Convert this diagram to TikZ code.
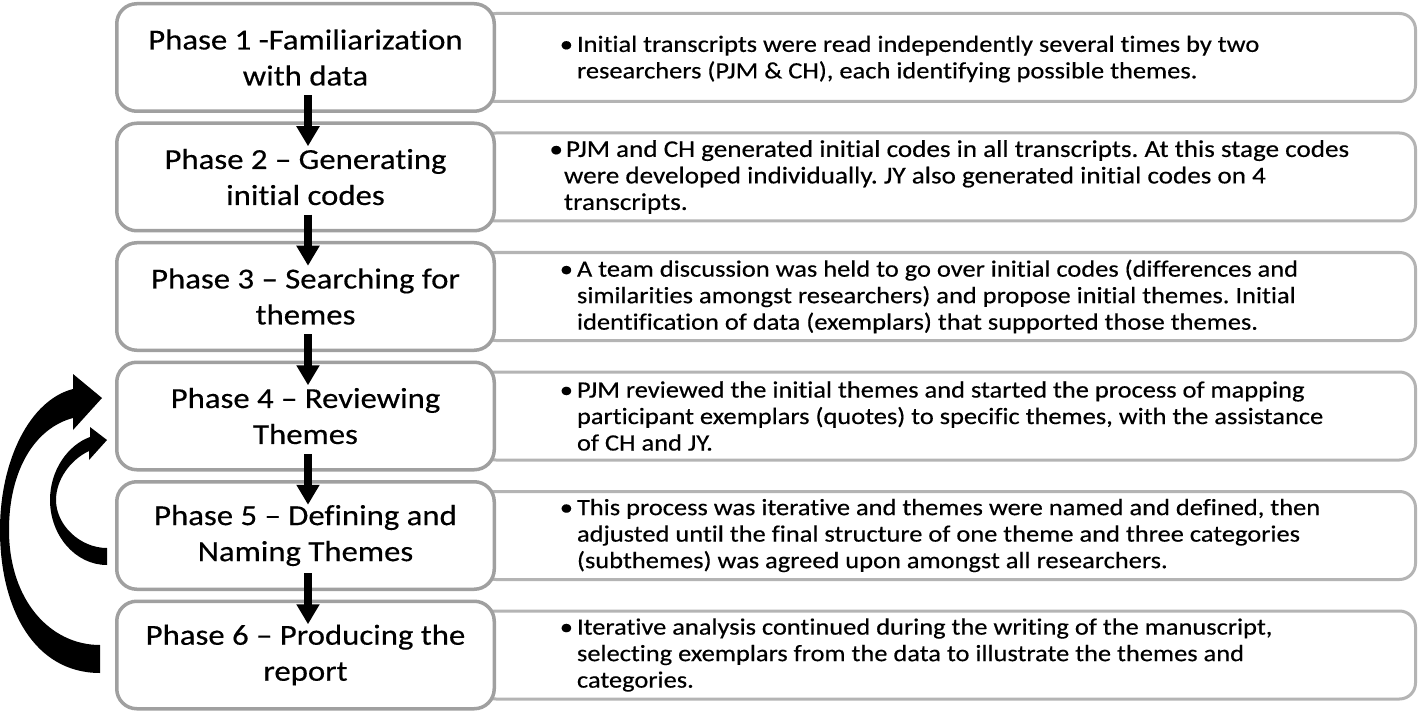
\documentclass[tikz,border=0pt]{standalone}
\usepackage{fontspec}
\setmainfont{Carlito}[FakeStretch=1.13, FakeBold=0.4, Ligatures=NoCommon]
\usetikzlibrary{arrows.meta}
\definecolor{leftgray}{HTML}{A0A0A0}
\definecolor{rightgray}{HTML}{B4B4B4}
\frenchspacing
\tikzset{
  phase/.style={draw=leftgray, line width=3.5pt, fill=white, rounded corners=20pt,
    minimum width=377.5pt, minimum height=107.5pt, inner sep=0pt, outer sep=0pt,
    align=center, font=\fontsize{29}{36}\selectfont},
  detail/.style={draw=rightgray, line width=3pt, fill=white, rounded corners=16pt,
    minimum width=935.5pt, minimum height=88pt, inner sep=0pt, outer sep=0pt},
  dtext/.style={anchor=west, align=left, inner sep=0pt, outer sep=0pt,
    font=\fontsize{23.4}{26.5}\selectfont},
  dtextwide/.style={dtext, font=\fontsize{24}{26.5}\selectfont},
  varrow/.style={line width=8pt, -{Triangle[width=22pt,length=20pt]}},
  looparrow/.style={fill=black}
}
\begin{document}
\begin{tikzpicture}[x=1pt,y=-1pt]
\useasboundingbox[fill=white] (0,0) rectangle (1419,714);

% detail boxes
\node[detail] (d1) at (947.75,57.5) {};
\node[detail] (d2) at (947.75,177) {};
\node[detail] (d3) at (947.75,296.5) {};
\node[detail] (d4) at (947.75,416) {};
\node[detail] (d5) at (947.75,535.5) {};
\node[detail] (d6) at (947.75,655) {};

% phase boxes
\node[phase] (p1) at (305.5,57.5) {Phase 1 -Familiarization\\with data};
\node[phase] (p2) at (305.5,177) {Phase 2 -- Generating\\initial codes};
\node[phase] (p3) at (305.5,296.5) {Phase 3 -- Searching for\\themes};
\node[phase] (p4) at (305.5,416) {Phase 4 -- Reviewing\\Themes};
\node[phase] (p5) at (305.5,535.5) {Phase 5 -- Defining and\\Naming Themes};
\node[phase] (p6) at (305.5,655) {Phase 6 -- Producing the\\report};

% detail texts
\node[dtext] (t1) at (577,59) {\llap{\textbullet\hspace{4pt}}Initial transcripts were read independently several times by two\\researchers (PJM \& CH), each identifying possible themes.};
\node[dtextwide] (t2) at (564,177) {\llap{\textbullet\hspace{1pt}}\hspace{2pt}PJM and CH generated initial codes in all transcripts. At this stage codes\\were developed individually. JY also generated initial codes on 4\\transcripts.};
\node[dtext] (t3) at (577,296.5) {\llap{\textbullet\hspace{4pt}}A team discussion was held to go over initial codes (differences and\\similarities amongst researchers) and propose initial themes. Initial\\identification of data (exemplars) that supported those themes.};
\node[dtext] (t4) at (577,416) {\llap{\textbullet\hspace{4pt}}PJM reviewed the initial themes and started the process of mapping\\participant exemplars (quotes) to specific themes, with the assistance\\of CH and JY.};
\node[dtext] (t5) at (577,535.5) {\llap{\textbullet\hspace{4pt}}This process was iterative and themes were named and defined, then\\adjusted until the final structure of one theme and three categories\\(subthemes) was agreed upon amongst all researchers.};
\node[dtext] (t6) at (577,655) {\llap{\textbullet\hspace{4pt}}Iterative analysis continued during the writing of the manuscript,\\selecting exemplars from the data to illustrate the themes and\\categories.};

% vertical arrows
\draw[varrow] ([xshift=2.5pt,yshift=16pt]p1.south) -- ([xshift=2.5pt,yshift=-23pt]p2.north);
\draw[varrow] ([xshift=2.5pt,yshift=16pt]p2.south) -- ([xshift=2.5pt,yshift=-23pt]p3.north);
\draw[varrow] ([xshift=2.5pt,yshift=16pt]p3.south) -- ([xshift=2.5pt,yshift=-23pt]p4.north);
\draw[varrow] ([xshift=2.5pt,yshift=16pt]p4.south) -- ([xshift=2.5pt,yshift=-23pt]p5.north);
\draw[varrow] ([xshift=2.5pt,yshift=16pt]p5.south) -- ([xshift=2.5pt,yshift=-23pt]p6.north);

% loop-back arrows
\fill[looparrow] (100,673) .. controls (35,673) and (0,610) .. (0,530)
  .. controls (0,460) and (30,400) .. (73,389) -- (73,374) -- (102,398) -- (73,430) -- (73,418)
  .. controls (35,428) and (9,470) .. (9,530)
  .. controls (9,600) and (50,645) .. (100,645) -- cycle;
\fill[looparrow] (107,565) .. controls (75,565) and (50,535) .. (50,500)
  .. controls (50,470) and (68,445) .. (90,437) -- (90,427) -- (107,440) -- (89,460) -- (89,451)
  .. controls (70,460) and (56,480) .. (56,500)
  .. controls (56,525) and (80,548) .. (107,548) -- cycle;
\end{tikzpicture}
\end{document}
